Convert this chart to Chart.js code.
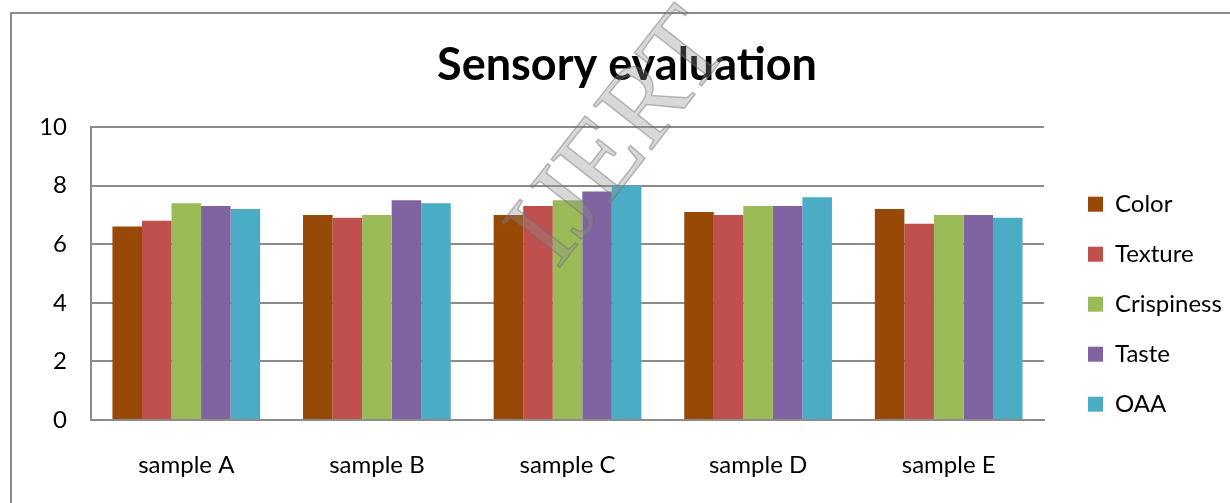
<!DOCTYPE html>
<html>
<head>
<meta charset="utf-8">
<script src="https://cdn.jsdelivr.net/npm/chart.js@4.4.1/dist/chart.umd.min.js"></script>
<style>
  html, body { margin: 0; padding: 0; background: #fff; }
  #wrap { width: 1230px; height: 503px; }
</style>
</head>
<body>
<div id="wrap"><canvas id="chart" width="1230" height="503"></canvas></div>
<script>
// sensory scores per sample
const SAMPLES    = ['sample A', 'sample B', 'sample C', 'sample D', 'sample E'];
const COLOR      = [6.6, 7.0, 7.0, 7.1, 7.2];
const TEXTURE    = [6.8, 6.9, 7.3, 7.0, 6.7];
const CRISPINESS = [7.4, 7.0, 7.5, 7.3, 7.0];
const TASTE      = [7.3, 7.5, 7.8, 7.3, 7.0];
const OAA        = [7.2, 7.4, 8.0, 7.6, 6.9];
const Y_TICKS    = [0, 2, 4, 6, 8, 10];

const FONT = 'Lato, "Noto Sans", sans-serif';
const GRID = '#8c8c8c';
const LEGEND_W = 186;   // room kept right of the plot
const LEGEND_GAP = 18;  // extra shift so the swatches sit further out

const SERIES = [
  { label: 'Color',      data: COLOR,      color: '#984807' },
  { label: 'Texture',    data: TEXTURE,    color: '#c0504d' },
  { label: 'Crispiness', data: CRISPINESS, color: '#9bbb59' },
  { label: 'Taste',      data: TASTE,      color: '#8064a2' },
  { label: 'OAA',        data: OAA,        color: '#4bacc6' },
];

// outer frame of the pasted chart object
const framePlugin = {
  id: 'frame',
  beforeDraw(chart) {
    const ctx = chart.ctx;
    ctx.save();
    ctx.strokeStyle = '#8a8a8a';
    ctx.lineWidth = 2;
    ctx.beginPath();
    ctx.moveTo(11, 510);
    ctx.lineTo(11, 13);
    ctx.lineTo(1240, 13);
    ctx.stroke();
    ctx.restore();
  },
};

// fixed legend width, then nudge it right once the layout is done
const legendBoxPlugin = {
  id: 'legendBox',
  afterInit(chart) {
    const lg = chart.legend;
    const fit = lg.fit;
    lg.fit = function () {
      fit.call(this);
      this.width = LEGEND_W;
    };
  },
  afterLayout(chart) {
    const lg = chart.legend;
    lg.left += LEGEND_GAP;
    lg.right += LEGEND_GAP;
  },
};

// faint publisher watermark over the plot
const watermarkPlugin = {
  id: 'watermark',
  afterDatasetsDraw(chart) {
    const ctx = chart.ctx;
    ctx.save();
    ctx.translate(622, 140);
    ctx.rotate(-52 * Math.PI / 180);
    ctx.font = '112px "Liberation Serif", "DejaVu Serif", serif';
    ctx.textAlign = 'center';
    ctx.textBaseline = 'middle';
    ctx.fillStyle = 'rgba(140,140,140,0.34)';
    ctx.strokeStyle = 'rgba(110,110,110,0.45)';
    ctx.lineWidth = 1.5;
    ctx.fillText('IJERT', 0, 0);
    ctx.strokeText('IJERT', 0, 0);
    ctx.restore();
  },
};

new Chart(document.getElementById('chart'), {
  type: 'bar',
  data: {
    labels: SAMPLES,
    datasets: SERIES.map(s => ({
      label: s.label,
      data: s.data,
      backgroundColor: s.color,
      borderWidth: 0,
      categoryPercentage: 0.775,
      barPercentage: 1.0,
    })),
  },
  options: {
    responsive: false,
    animation: false,
    layout: { padding: { left: 24, right: 0, top: 0, bottom: 0 } },
    plugins: {
      title: {
        display: true,
        text: 'Sensory evaluation',
        color: '#000',
        font: { family: FONT, size: 45, weight: 'bold' },
        padding: { top: 38, bottom: 35 },
      },
      legend: {
        position: 'right',
        align: 'start',
        fullSize: true,
        title: { display: true, text: '', font: { size: 1 }, padding: { top: 165, bottom: 0 } },
        labels: {
          color: '#000',
          font: { family: FONT, size: 24 },
          boxWidth: 15,
          boxHeight: 15,
          padding: 26,
        },
      },
      tooltip: { enabled: false },
    },
    scales: {
      x: {
        grid: { display: false },
        border: { display: true, color: GRID, width: 2 },
        ticks: { color: '#000', font: { family: FONT, size: 24 }, padding: 23 },
        afterFit: scale => { scale.height = 83; },
      },
      y: {
        min: 0,
        max: 10,
        afterBuildTicks: scale => { scale.ticks = Y_TICKS.map(v => ({ value: v })); },
        grid: { color: GRID, lineWidth: 2, drawTicks: false },
        border: { display: true, color: GRID, width: 2 },
        ticks: { color: '#000', font: { family: FONT, size: 24 }, padding: 24 },
        afterFit: scale => { scale.width = 67; },
      },
    },
  },
  plugins: [framePlugin, legendBoxPlugin, watermarkPlugin],
});
</script>
</body>
</html>
